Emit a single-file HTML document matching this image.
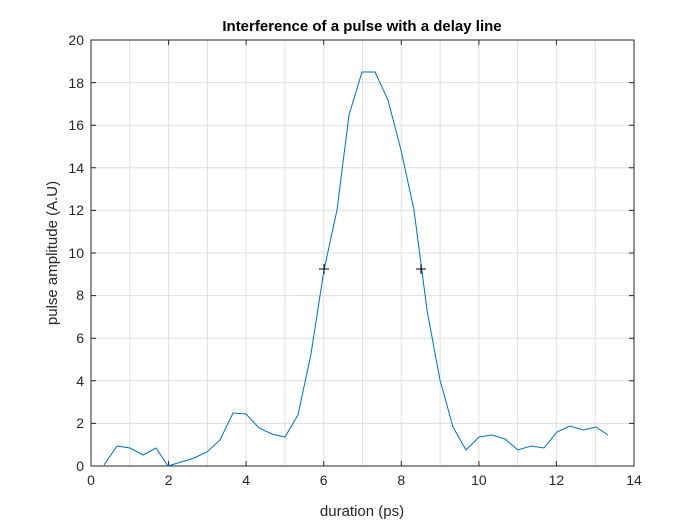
<!DOCTYPE html>
<html><head><style>body{margin:0;background:#fff}svg{display:block}</style></head><body>
<svg width="700" height="525" xmlns="http://www.w3.org/2000/svg" font-family="Liberation Sans, sans-serif">
<rect width="700" height="525" fill="#fff"/>
<g stroke="#dfdfdf" stroke-width="1">
<line x1="129.8" y1="40" x2="129.8" y2="466"/><line x1="168.6" y1="40" x2="168.6" y2="466"/><line x1="207.4" y1="40" x2="207.4" y2="466"/><line x1="246.1" y1="40" x2="246.1" y2="466"/><line x1="284.9" y1="40" x2="284.9" y2="466"/><line x1="323.7" y1="40" x2="323.7" y2="466"/><line x1="362.5" y1="40" x2="362.5" y2="466"/><line x1="401.3" y1="40" x2="401.3" y2="466"/><line x1="440.1" y1="40" x2="440.1" y2="466"/><line x1="478.9" y1="40" x2="478.9" y2="466"/><line x1="517.6" y1="40" x2="517.6" y2="466"/><line x1="556.4" y1="40" x2="556.4" y2="466"/><line x1="595.2" y1="40" x2="595.2" y2="466"/>
<line x1="91" y1="423.4" x2="634" y2="423.4"/><line x1="91" y1="380.8" x2="634" y2="380.8"/><line x1="91" y1="338.2" x2="634" y2="338.2"/><line x1="91" y1="295.6" x2="634" y2="295.6"/><line x1="91" y1="253" x2="634" y2="253"/><line x1="91" y1="210.4" x2="634" y2="210.4"/><line x1="91" y1="167.8" x2="634" y2="167.8"/><line x1="91" y1="125.2" x2="634" y2="125.2"/><line x1="91" y1="82.6" x2="634" y2="82.6"/>
</g>
<rect x="91" y="40" width="543" height="426" fill="none" stroke="#262626" stroke-width="1"/>
<g stroke="#262626">
<path d="M91 466v-5M168.6 466v-5M246.1 466v-5M323.7 466v-5M401.3 466v-5M478.9 466v-5M556.4 466v-5M634 466v-5M91 40v5M168.6 40v5M246.1 40v5M323.7 40v5M401.3 40v5M478.9 40v5M556.4 40v5M634 40v5"/>
<path d="M91 466h5M91 423.4h5M91 380.8h5M91 338.2h5M91 295.6h5M91 253h5M91 210.4h5M91 167.8h5M91 125.2h5M91 82.6h5M91 40h5M634 466h-5M634 423.4h-5M634 380.8h-5M634 338.2h-5M634 295.6h-5M634 253h-5M634 210.4h-5M634 167.8h-5M634 125.2h-5M634 82.6h-5M634 40h-5"/>
</g>
<g font-size="14" fill="#262626" text-anchor="middle">
<text x="91" y="485">0</text><text x="168.6" y="485">2</text><text x="246.1" y="485">4</text><text x="323.7" y="485">6</text><text x="401.3" y="485">8</text><text x="478.9" y="485">10</text><text x="556.4" y="485">12</text><text x="634" y="485">14</text>
</g>
<g font-size="14" fill="#262626" text-anchor="end">
<text x="84" y="471">0</text><text x="84" y="428">2</text><text x="84" y="386">4</text><text x="84" y="343">6</text><text x="84" y="300">8</text><text x="84" y="258">10</text><text x="84" y="215">12</text><text x="84" y="173">14</text><text x="84" y="130">16</text><text x="84" y="88">18</text><text x="84" y="45">20</text>
</g>
<text x="362" y="516" font-size="15" fill="#262626" text-anchor="middle">duration (ps)</text>
<text transform="translate(57,253) rotate(-90)" font-size="15" fill="#262626" text-anchor="middle">pulse amplitude (A.U)</text>
<text x="362" y="31" font-size="15" font-weight="bold" fill="#000" text-anchor="middle">Interference of a pulse with a delay line</text>
<polyline fill="none" stroke="#0072bd" stroke-width="1" points="104,465 117,446 130,448 143,455 156,448 168,466 181,462 194,458 207,452 220,440 233,413 246,414 259,428 272,434 285,437 298,415 311,354 324,270 337,210 349,115 362,72 375,72 388,100 401,150 414,210 427,310 440,380 453,427 466,450 479,437 492,435 505,439 518,450 531,446 544,448 557,432 570,426 583,430 596,427 608,435"/>
<g stroke="#000" stroke-width="1">
<path d="M319 269h10M324 264v10M416 269h10M421 264v10"/>
</g>
</svg>
</body></html>
